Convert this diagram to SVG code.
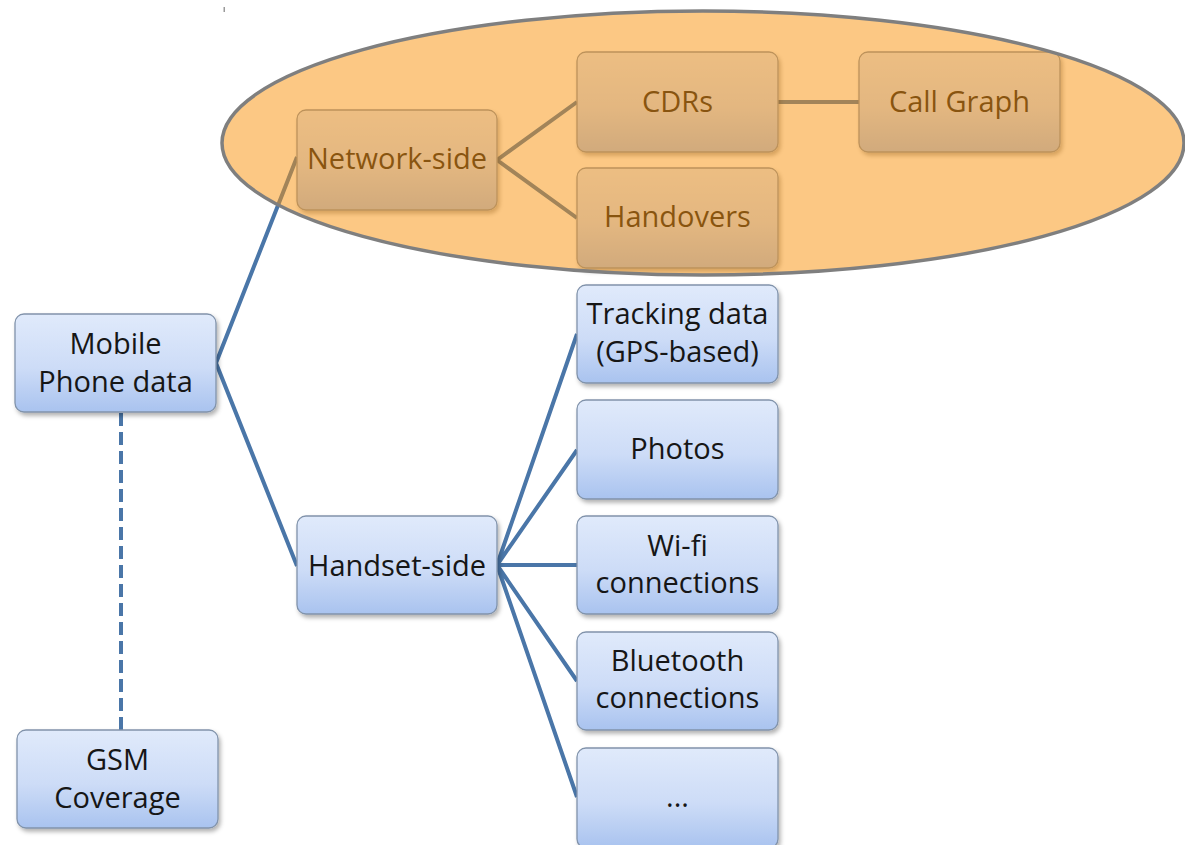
<svg xmlns="http://www.w3.org/2000/svg" width="1185" height="845" viewBox="0 0 1185 845">
  <defs>
    <linearGradient id="boxFill" x1="0" y1="0" x2="0" y2="1">
      <stop offset="0" stop-color="#e0eafb"/>
      <stop offset="0.55" stop-color="#cddcf7"/>
      <stop offset="1" stop-color="#a9c3ef"/>
    </linearGradient>
    <filter id="shadow" x="-10%" y="-10%" width="125%" height="130%">
      <feDropShadow dx="2" dy="3" stdDeviation="2" flood-color="#000" flood-opacity="0.3"/>
    </filter>
    <style>
      .box { fill: url(#boxFill); stroke: #8193ab; stroke-width: 1.3; filter: url(#shadow); }
      .lbl { font-family: "Open Sans", "Liberation Sans", sans-serif; font-size: 29px; fill: #161616; text-anchor: middle; }
      .link { fill: none; stroke: #4a76a8; stroke-width: 4; stroke-linejoin: round; }
      .dash { stroke-dasharray: 13 6; }
      .zone { fill: #f9910a; fill-opacity: 0.5; stroke: #7f7f7f; stroke-width: 3.5; }
    </style>
  </defs>

  <rect width="1185" height="845" fill="#ffffff"/>
  <!-- small stray tick near the top -->
  <rect x="223.5" y="7" width="1.5" height="5" fill="#9a9a9a"/>

  <!-- connectors -->
  <g id="connectors">
    <polyline class="link" points="297,157 216,363 297,566"/>
    <line class="link dash" x1="121" y1="413" x2="121" y2="730"/>
    <polyline class="link" points="577,102 497,160 577,218"/>
    <line class="link" x1="778" y1="102" x2="859" y2="102"/>
    <polyline class="link" points="577,334 497,565 577,450"/>
    <line class="link" x1="497" y1="565" x2="577" y2="565"/>
    <polyline class="link" points="577,681 497,565 577,797"/>
  </g>

  <g id="mobile-phone-data">
    <rect class="box" x="15" y="314" width="201" height="98" rx="9"/>
    <text class="lbl" x="115.5" y="354">Mobile</text>
    <text class="lbl" x="115.5" y="392">Phone data</text>
  </g>

  <g id="gsm-coverage">
    <rect class="box" x="17" y="730" width="201" height="98" rx="9"/>
    <text class="lbl" x="117.5" y="770">GSM</text>
    <text class="lbl" x="117.5" y="808">Coverage</text>
  </g>

  <g id="network-side">
    <rect class="box" x="297" y="110" width="200" height="100" rx="9"/>
    <text class="lbl" x="397" y="169">Network-side</text>
  </g>

  <g id="handset-side">
    <rect class="box" x="297" y="516" width="200" height="98" rx="9"/>
    <text class="lbl" x="397" y="576">Handset-side</text>
  </g>

  <g id="cdrs">
    <rect class="box" x="577" y="52" width="201" height="100" rx="9"/>
    <text class="lbl" x="677.5" y="112">CDRs</text>
  </g>

  <g id="handovers">
    <rect class="box" x="577" y="168" width="201" height="100" rx="9"/>
    <text class="lbl" x="677.5" y="227">Handovers</text>
  </g>

  <g id="call-graph">
    <rect class="box" x="859" y="52" width="201" height="100" rx="9"/>
    <text class="lbl" x="959.5" y="112">Call Graph</text>
  </g>

  <g id="tracking-data">
    <rect class="box" x="577" y="285" width="201" height="98" rx="9"/>
    <text class="lbl" x="677.5" y="324">Tracking data</text>
    <text class="lbl" x="677.5" y="362">(GPS-based)</text>
  </g>

  <g id="photos">
    <rect class="box" x="577" y="400" width="201" height="99" rx="9"/>
    <text class="lbl" x="677.5" y="459">Photos</text>
  </g>

  <g id="wifi-connections">
    <rect class="box" x="577" y="516" width="201" height="98" rx="9"/>
    <text class="lbl" x="677.5" y="556">Wi-fi</text>
    <text class="lbl" x="677.5" y="593">connections</text>
  </g>

  <g id="bluetooth-connections">
    <rect class="box" x="577" y="632" width="201" height="98" rx="9"/>
    <text class="lbl" x="677.5" y="671">Bluetooth</text>
    <text class="lbl" x="677.5" y="708">connections</text>
  </g>

  <g id="more">
    <rect class="box" x="577" y="748" width="201" height="100" rx="9"/>
    <text class="lbl" x="677.5" y="807">...</text>
  </g>

  <!-- translucent highlight around the network-side branch -->
  <g id="network-zone">
    <ellipse class="zone" cx="703" cy="143" rx="481" ry="132"/>
  </g>
</svg>
